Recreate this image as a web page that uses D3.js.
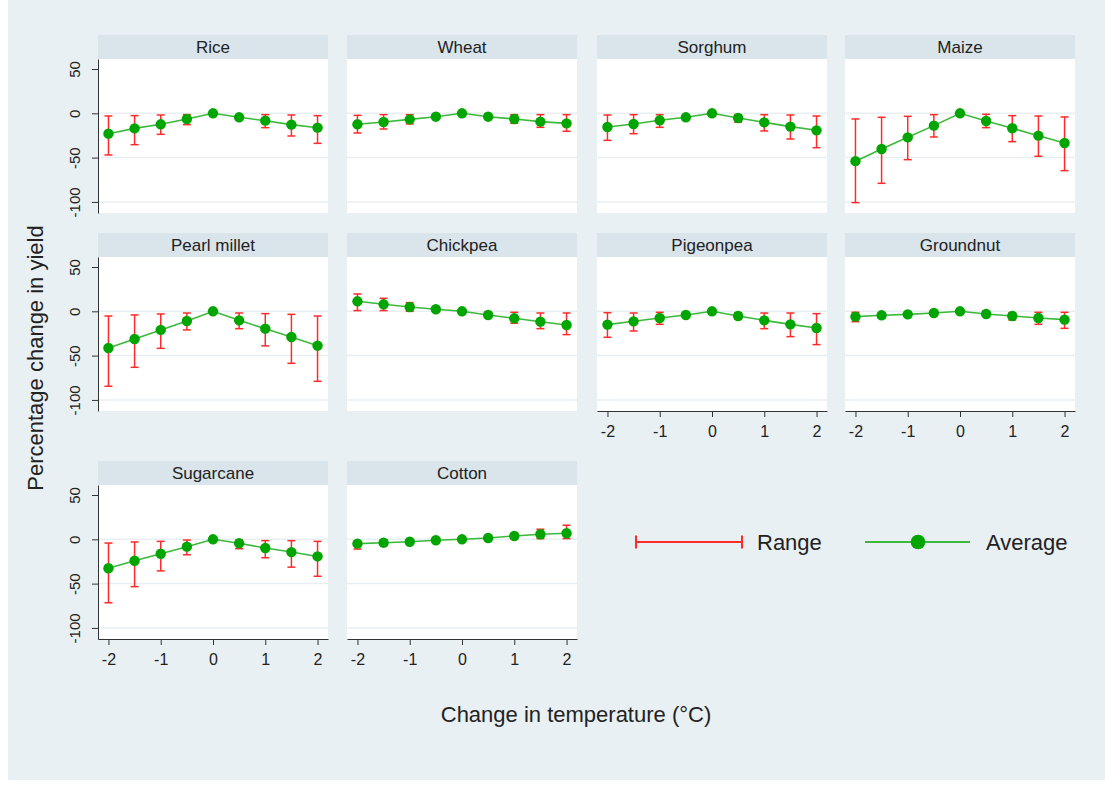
<!DOCTYPE html>
<html>
<head>
<meta charset="utf-8">
<script src="https://cdn.jsdelivr.net/npm/d3@7"></script>
<style>
  body { margin: 0; background: #ffffff; }
  svg { display: block; font-family: "Liberation Sans", Arial, sans-serif; }
</style>
</head>
<body>
<script>
var width = 1105,
    height = 789;

// change in temperature (°C)
var temps = [-2, -1.5, -1, -0.5, 0, 0.5, 1, 1.5, 2];

var crops = ["Rice", "Wheat", "Sorghum", "Maize", "Pearl millet",
             "Chickpea", "Pigeonpea", "Groundnut", "Sugarcane", "Cotton"];

// average % change in yield, one row per crop
var averages = [
  [-23, -17, -12.4, -6.4, 0, -4.5, -8.3, -12.8, -16.2],
  [-12.4, -9.8, -6.8, -3.8, 0, -3.8, -6.4, -9.4, -11.3],
  [-15.4, -12, -7.9, -4.5, 0, -5.3, -10.2, -15, -19.2],
  [-54, -40.3, -27.1, -13.9, 0, -8.7, -16.9, -25.2, -33.5],
  [-41.4, -31.2, -21, -10.9, 0, -10.2, -19.6, -29, -38.8],
  [11.3, 7.9, 4.9, 2.3, 0, -4.1, -7.9, -11.7, -15.4],
  [-15, -11.3, -7.5, -4.1, 0, -5.3, -10.2, -14.7, -18.8],
  [-6, -4.5, -3.4, -1.9, 0, -3, -5.3, -7.5, -9.4],
  [-32.6, -24.2, -16.3, -8.3, 0, -4.5, -9.8, -14.4, -19.3],
  [-4.9, -3.8, -2.7, -1.1, 0, 1.5, 3.8, 5.7, 6.8]
];

// lower end of range
var lows = [
  [-47, -35.4, -23.7, -12.8, 0, -7, -16.2, -25.6, -33.9],
  [-22.2, -17.7, -12, -6, 0, -6, -11.3, -15.8, -20.3],
  [-30.5, -23, -15.8, -7, 0, -10, -19.9, -29, -38.8],
  [-100.8, -79, -52.3, -26.7, 0, -16.2, -32, -48.5, -64.7],
  [-84.6, -63.2, -41.8, -21, 0, -19.6, -39, -58.7, -79],
  [0.8, 0.8, 0, 0, 0, -6, -13.5, -19.6, -26.3],
  [-29.3, -22.2, -14.7, -6, 0, -9, -19.6, -28.6, -37.6],
  [-11.7, -7.5, -5.5, -3.5, 0, -4.5, -9.8, -14.7, -19.2],
  [-71.6, -53.4, -35.6, -17.4, 0, -10.6, -20.8, -31.4, -41.7],
  [-11, -7, -5, -2.5, 0, 0, 0.5, 0.8, 0.8]
];

// upper end of range
var highs = [
  [-3, -2.6, -1.9, -1.5, 0, -2, -1.5, -1.9, -2.6],
  [-2.3, -1.5, -1.5, -1.5, 0, -1.5, -1.5, -1.5, -1.5],
  [-1.9, -1.5, -1.5, -2, 0, -1.5, -1.5, -1.9, -3],
  [-6.4, -4.5, -3.4, -1.5, 0, -1.1, -2.6, -3, -4.1],
  [-5.3, -4.1, -3, -1.9, 0, -1.9, -2.6, -3.4, -5.3],
  [19.6, 14.7, 9.8, 4.5, 0, -1, -1.1, -1.9, -1.9],
  [-1.5, -1.9, -1.1, -1.5, 0, -1.5, -1.9, -1.9, -2.6],
  [-1.1, -1.5, -1.2, -0.8, 0, -1, -1.5, -1.1, -1.1],
  [-4.2, -3, -2.3, -0.8, 0, -0.8, -1.5, -1.5, -2.3],
  [-2.3, -1, -0.5, 0, 0, 2.5, 6, 11.4, 15.9]
];

var yTicks = [50, 0, -50, -100],
    xTicks = [-2, -1, 0, 1, 2];

var colX = [98, 347, 597, 845],
    rowY = [35, 233, 461],
    panelW = 230,
    headH = 24,
    plotH = 154;

var red = "#ff2b2b",
    green = "#00a500",
    lineGreen = "#3cb83c";

var svg = d3.select("body")
            .append("svg")
            .attr("width", width)
            .attr("height", height);

svg.append("rect")
   .attr("x", 8).attr("y", 0)
   .attr("width", width - 8).attr("height", 780)
   .attr("fill", "#e9f0f3");

var x = d3.scaleLinear().domain([-2.2, 2.2]).range([0, panelW]),
    y = d3.scaleLinear().domain([-112.5, 61.3]).range([plotH, 0]);

var line = d3.line()
             .x(function(d) { return x(d.t); })
             .y(function(d) { return y(d.avg); });

crops.forEach(function(name, i) {
  var col = i % 4,
      row = Math.floor(i / 4);
  var g = svg.append("g")
             .attr("transform", "translate(" + colX[col] + "," + rowY[row] + ")");

  // title strip
  g.append("rect")
   .attr("width", panelW).attr("height", headH)
   .attr("fill", "#d9e4eb");
  g.append("text")
   .attr("x", panelW / 2).attr("y", headH / 2 + 6)
   .attr("text-anchor", "middle")
   .attr("font-size", 17)
   .attr("fill", "#222")
   .text(name);

  var p = g.append("g").attr("transform", "translate(0," + headH + ")");
  p.append("rect")
   .attr("width", panelW).attr("height", plotH)
   .attr("fill", "#ffffff");

  p.selectAll(".grid")
   .data([0, -50, -100])
   .enter().append("line")
   .attr("x1", 0).attr("x2", panelW)
   .attr("y1", function(d) { return y(d); })
   .attr("y2", function(d) { return y(d); })
   .attr("stroke", "#e8eff2")
   .attr("stroke-width", 1.5);

  var pts = temps.map(function(t, j) {
    return {t: t, avg: averages[i][j], lo: lows[i][j], hi: highs[i][j]};
  });

  // range caps
  var bars = p.selectAll(".bar")
              .data(pts.filter(function(d) { return d.lo !== d.hi; }))
              .enter().append("g")
              .attr("stroke", red)
              .attr("stroke-width", 1.5);
  bars.append("line")
      .attr("x1", function(d) { return x(d.t); })
      .attr("x2", function(d) { return x(d.t); })
      .attr("y1", function(d) { return y(d.lo); })
      .attr("y2", function(d) { return y(d.hi); });
  bars.append("line")
      .attr("x1", function(d) { return x(d.t) - 4; })
      .attr("x2", function(d) { return x(d.t) + 4; })
      .attr("y1", function(d) { return y(d.lo); })
      .attr("y2", function(d) { return y(d.lo); });
  bars.append("line")
      .attr("x1", function(d) { return x(d.t) - 4; })
      .attr("x2", function(d) { return x(d.t) + 4; })
      .attr("y1", function(d) { return y(d.hi); })
      .attr("y2", function(d) { return y(d.hi); });

  p.append("path")
   .attr("d", line(pts))
   .attr("fill", "none")
   .attr("stroke", lineGreen)
   .attr("stroke-width", 1.6);

  p.selectAll(".dot")
   .data(pts)
   .enter().append("circle")
   .attr("cx", function(d) { return x(d.t); })
   .attr("cy", function(d) { return y(d.avg); })
   .attr("r", 5.2)
   .attr("fill", green);

  if (col === 0) {
    var ya = p.append("g")
              .call(d3.axisLeft(y).tickValues(yTicks).tickSize(6).tickSizeOuter(0));
    ya.select(".domain").attr("stroke", "#333");
    ya.selectAll(".tick line").attr("stroke", "#333");
    ya.selectAll("text")
      .attr("transform", "rotate(-90)")
      .attr("x", 0).attr("y", -18).attr("dy", 0)
      .attr("text-anchor", "middle")
      .attr("font-size", 15)
      .attr("font-family", "Liberation Sans, Arial, sans-serif")
      .attr("fill", "#222")
      .text(function(d) { return String(d); });
  }

  if (i + 4 >= crops.length) {
    var xa = p.append("g")
              .attr("transform", "translate(0," + plotH + ")")
              .call(d3.axisBottom(x).tickValues(xTicks).tickSize(6).tickSizeOuter(0));
    xa.select(".domain").attr("stroke", "#333");
    xa.selectAll(".tick line").attr("stroke", "#333");
    xa.selectAll("text")
      .attr("y", 15)
      .attr("font-size", 16)
      .attr("font-family", "Liberation Sans, Arial, sans-serif")
      .attr("fill", "#222")
      .text(function(d) { return String(d); });
  }
});

// axis titles
svg.append("text")
   .attr("transform", "translate(43,358) rotate(-90)")
   .attr("text-anchor", "middle")
   .attr("font-size", 22)
   .attr("fill", "#222")
   .text("Percentage change in yield");

svg.append("text")
   .attr("x", 576).attr("y", 722)
   .attr("text-anchor", "middle")
   .attr("font-size", 22)
   .attr("fill", "#222")
   .text("Change in temperature (°C)");

// legend
var leg = svg.append("g");
leg.append("line")
   .attr("x1", 636).attr("x2", 742).attr("y1", 542).attr("y2", 542)
   .attr("stroke", red).attr("stroke-width", 2);
[636, 742].forEach(function(cx) {
  leg.append("line")
     .attr("x1", cx).attr("x2", cx).attr("y1", 535.5).attr("y2", 548.5)
     .attr("stroke", red).attr("stroke-width", 2);
});
leg.append("text")
   .attr("x", 757).attr("y", 550)
   .attr("font-size", 22).attr("fill", "#222")
   .text("Range");
leg.append("line")
   .attr("x1", 865).attr("x2", 970).attr("y1", 542).attr("y2", 542)
   .attr("stroke", lineGreen).attr("stroke-width", 2);
leg.append("circle")
   .attr("cx", 918).attr("cy", 542).attr("r", 7.3)
   .attr("fill", green);
leg.append("text")
   .attr("x", 986).attr("y", 550)
   .attr("font-size", 22).attr("fill", "#222")
   .text("Average");
</script>
</body>
</html>
